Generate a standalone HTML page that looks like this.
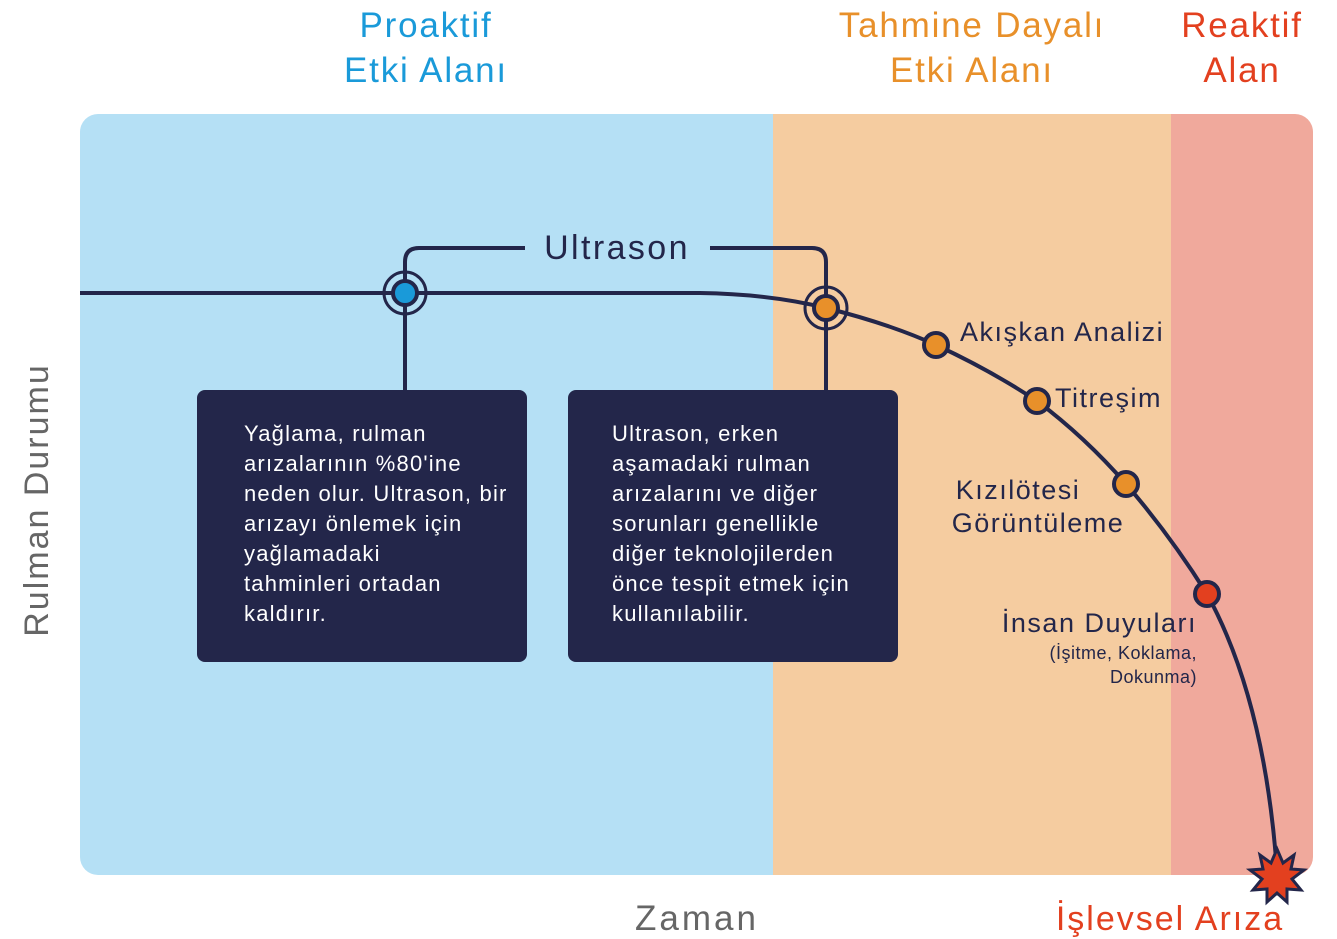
<!DOCTYPE html>
<html><head><meta charset="utf-8"><style>
body{margin:0;background:#fff;}
svg{display:block;font-family:"Liberation Sans",sans-serif;}
</style></head><body>
<svg width="1337" height="939" viewBox="0 0 1337 939" xmlns="http://www.w3.org/2000/svg">
<defs><clipPath id="c"><rect x="80" y="114" width="1233" height="761" rx="18"/></clipPath></defs>
<g clip-path="url(#c)">
<rect x="80" y="114" width="693" height="761" fill="#b5e0f5"/>
<rect x="773" y="114" width="398" height="761" fill="#f5cca0"/>
<rect x="1171" y="114" width="142" height="761" fill="#f0a99c"/>
</g>
<g font-size="35" text-anchor="middle" letter-spacing="1.8">
<text x="426" y="37" fill="#1a9ad9">Proaktif</text>
<text x="426" y="82" fill="#1a9ad9">Etki Alanı</text>
<text x="972" y="37" fill="#e8902a">Tahmine Dayalı</text>
<text x="972" y="82" fill="#e8902a">Etki Alanı</text>
<text x="1242" y="37" fill="#e3401f">Reaktif</text>
<text x="1242" y="82" fill="#e3401f">Alan</text>
</g>
<text x="48" y="500" font-size="34" letter-spacing="2" fill="#666" text-anchor="middle" transform="rotate(-90 48 500)">Rulman Durumu</text>
<text x="697" y="930" font-size="35" letter-spacing="3" fill="#666" text-anchor="middle">Zaman</text>
<text x="1170" y="930" font-size="34" letter-spacing="2" fill="#e3401f" text-anchor="middle">İşlevsel Arıza</text>
<g fill="none" stroke="#23264a" stroke-width="4">
<path d="M80 293 L700 293 Q770 294 826 308 Q890 324 936 345 Q990 370 1037 401 Q1085 437 1126 484 Q1170 535 1207 594 Q1265 700 1277 872"/>
<path d="M405 390 L405 262 Q405 248 419 248 L525 248"/>
<path d="M710 248 L812 248 Q826 248 826 262 L826 390"/>
<circle cx="405" cy="293" r="21" stroke-width="3"/>
<circle cx="826" cy="308" r="21" stroke-width="3"/>
</g>
<text x="617" y="259" font-size="34" letter-spacing="2.4" fill="#23264a" text-anchor="middle">Ultrason</text>
<g stroke="#23264a" stroke-width="4">
<circle cx="405" cy="293" r="12" fill="#1a9ad9"/>
<circle cx="826" cy="308" r="12" fill="#e8902a"/>
<circle cx="936" cy="345" r="12" fill="#e8902a"/>
<circle cx="1037" cy="401" r="12" fill="#e8902a"/>
<circle cx="1126" cy="484" r="12" fill="#e8902a"/>
<circle cx="1207" cy="594" r="12" fill="#e3401f"/>
</g>
<g font-size="27" fill="#23264a" letter-spacing="1.5">
<text x="960" y="341">Akışkan Analizi</text>
<text x="1055" y="407">Titreşim</text>
<text x="1018" y="499" text-anchor="middle">Kızılötesi</text>
<text x="1038" y="532" text-anchor="middle">Görüntüleme</text>
<text x="1197" y="632" text-anchor="end">İnsan Duyuları</text>
<text x="1197" y="659" font-size="18" letter-spacing="0.5" text-anchor="end">(İşitme, Koklama,</text>
<text x="1197" y="683" font-size="18" letter-spacing="0.5" text-anchor="end">Dokunma)</text>
</g>
<rect x="197" y="390" width="330" height="272" rx="8" fill="#23264a"/>
<rect x="568" y="390" width="330" height="272" rx="8" fill="#23264a"/>
<g font-size="22" fill="#fff" letter-spacing="1.2">
<text x="244" y="441">Yağlama, rulman</text>
<text x="244" y="471">arızalarının %80'ine</text>
<text x="244" y="501">neden olur. Ultrason, bir</text>
<text x="244" y="531">arızayı önlemek için</text>
<text x="244" y="561">yağlamadaki</text>
<text x="244" y="591">tahminleri ortadan</text>
<text x="244" y="621">kaldırır.</text>
<text x="612" y="441">Ultrason, erken</text>
<text x="612" y="471">aşamadaki rulman</text>
<text x="612" y="501">arızalarını ve diğer</text>
<text x="612" y="531">sorunları genellikle</text>
<text x="612" y="561">diğer teknolojilerden</text>
<text x="612" y="591">önce tespit etmek için</text>
<text x="612" y="621">kullanılabilir.</text>
</g>
<polygon transform="translate(1277 876)" fill="#e3401f" stroke="#23264a" stroke-width="3" stroke-linejoin="miter"
points="0,-27 6,-13 17,-21 14,-7 27,-6 15,3 24,14 10,13 10,26 0,17 -10,26 -10,13 -24,14 -15,3 -27,-6 -14,-7 -17,-21 -6,-13"/>
</svg>
</body></html>
